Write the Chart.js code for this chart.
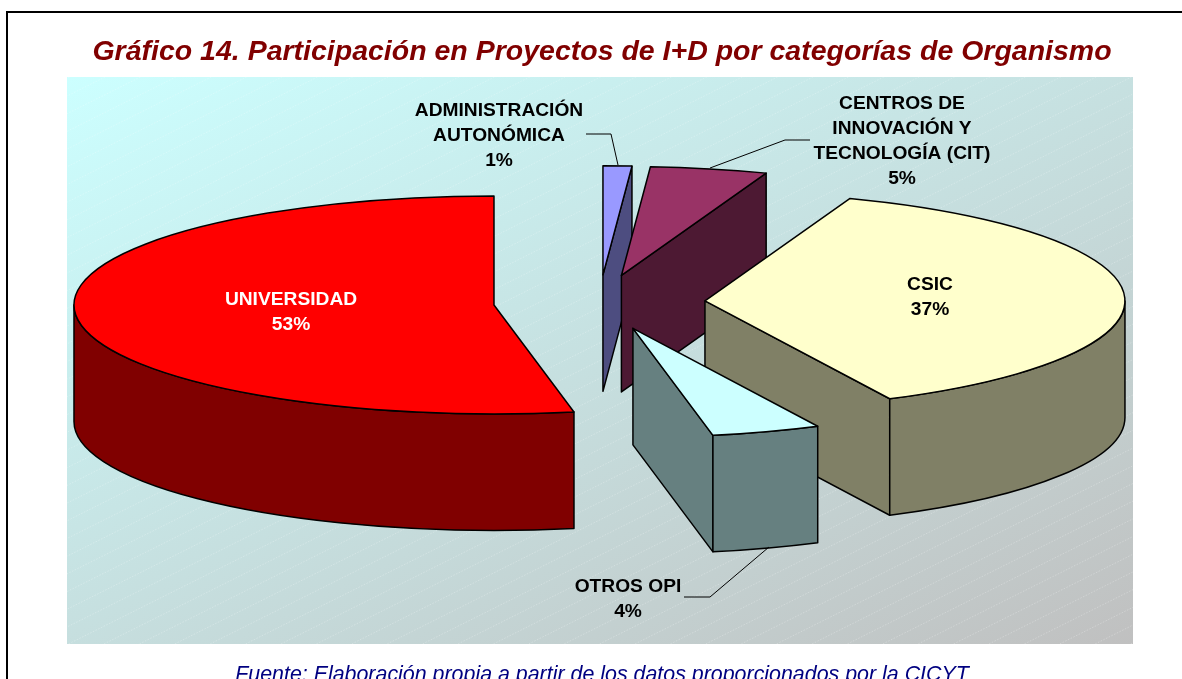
<!DOCTYPE html>
<html>
<head>
<meta charset="utf-8">
<style>
html,body{margin:0;padding:0;background:#fff;overflow:hidden;width:1182px;height:679px}
#wrap{width:1182px;height:679px;overflow:hidden}
canvas{display:block}
</style>
<script src="https://cdn.jsdelivr.net/npm/chart.js@4/dist/chart.umd.min.js"></script>
</head>
<body>
<div id="wrap"><canvas id="c" width="1182" height="700"></canvas></div>
<script>
const categories = ['ADMINISTRACIÓN AUTONÓMICA','CENTROS DE INNOVACIÓN Y TECNOLOGÍA (CIT)','CSIC','OTROS OPI','UNIVERSIDAD'];
const shares = [1.1, 4.5, 37.15, 4.2, 53.05];
const topColors = ['#9999ff','#993366','#ffffcc','#ccffff','#ff0000'];
const wallColors = ['#4d4d80','#4d1933','#808066','#668080','#800000'];
const labelLines = [['ADMINISTRACIÓN','AUTONÓMICA'],['CENTROS DE','INNOVACIÓN Y','TECNOLOGÍA (CIT)'],['CSIC'],['OTROS OPI'],['UNIVERSIDAD']];
const titleText = 'Gráfico 14. Participación en Proyectos de I+D por categorías de Organismo';
const sourceText = 'Fuente: Elaboración propia a partir de los datos proporcionados por la CICYT';

const view = {cx:599.3, cy:302.3, tilt:109/420, radius:420, explode:105.8, depth:116.5};
const plot = {x:67, y:77, w:1066, h:567};
const labelAnchors = [
  {x:499,y:110.5,color:'#000',leader:[[586,134],[611,134],[618,165]]},
  {x:902,y:103.5,color:'#000',leader:[[810,140],[785,140],[710,168]]},
  {x:930,y:284.5,color:'#000'},
  {x:628,y:586.5,color:'#000',leader:[[684,597],[710,597],[769,547]]},
  {x:291,y:299.5,color:'#fff'}
];

const pie3d = {
  id:'pie3d',
  beforeDraw(chart){
    const ctx = chart.ctx;
    ctx.save();
    ctx.fillStyle = '#fff';
    ctx.fillRect(0,0,chart.width,chart.height);
    ctx.fillStyle = '#000';
    ctx.fillRect(6,11,chart.width-6,2);
    ctx.fillRect(6,11,2,chart.height);
    const g = ctx.createLinearGradient(plot.x,plot.y,plot.x+440,plot.y+880);
    g.addColorStop(0,'#ccffff');
    g.addColorStop(1,'#c0c0c0');
    ctx.fillStyle = g;
    ctx.fillRect(plot.x,plot.y,plot.w,plot.h);
    ctx.beginPath();
    ctx.rect(plot.x,plot.y,plot.w,plot.h);
    ctx.clip();
    ctx.strokeStyle = 'rgba(255,255,255,0.25)';
    ctx.lineWidth = 1;
    ctx.setLineDash([1.5,1.5]);
    for(let c = 2206 - 35.4*80; c < 3000; c += 35.4){
      ctx.beginPath();
      ctx.moveTo(c - 2*plot.y, plot.y);
      ctx.lineTo(c - 2*(plot.y+plot.h), plot.y+plot.h);
      ctx.stroke();
    }
    ctx.restore();
  },
  beforeDatasetsDraw(chart){
    const ctx = chart.ctx;
    const arcs = chart.getDatasetMeta(0).data;
    const {tilt,radius:rx,explode,depth} = view;
    const ry = rx*tilt;
    const geo = arcs.map((arc,i)=>{
      const mid = (arc.startAngle+arc.endAngle)/2;
      return {i,arc,mid,a0:arc.startAngle,a1:arc.endAngle,
        x:view.cx+Math.cos(mid)*explode, y:view.cy+Math.sin(mid)*explode*tilt};
    });
    const order = [...geo].sort((p,q)=>Math.sin(p.mid)-Math.sin(q.mid));
    ctx.save();
    ctx.lineWidth = 1.5;
    ctx.strokeStyle = '#000';
    ctx.lineJoin = 'round';
    for(const s of order){
      ctx.fillStyle = wallColors[s.i];
      const face = a=>{
        const px = s.x+Math.cos(a)*rx, py = s.y+Math.sin(a)*ry;
        ctx.beginPath();
        ctx.moveTo(s.x,s.y); ctx.lineTo(px,py); ctx.lineTo(px,py+depth); ctx.lineTo(s.x,s.y+depth);
        ctx.closePath(); ctx.fill(); ctx.stroke();
      };
      if(Math.cos(s.a0)<0) face(s.a0);
      if(Math.cos(s.a1)>0) face(s.a1);
      for(const k of [0,2]){
        const lo = Math.max(s.a0,k*Math.PI), hi = Math.min(s.a1,(k+1)*Math.PI);
        if(hi>lo){
          ctx.beginPath();
          ctx.ellipse(s.x,s.y,rx,ry,0,lo,hi);
          ctx.ellipse(s.x,s.y+depth,rx,ry,0,hi,lo,true);
          ctx.closePath(); ctx.fill(); ctx.stroke();
        }
      }
    }
    for(const s of geo){
      ctx.save();
      ctx.translate(s.x,s.y);
      ctx.scale(1,tilt);
      ctx.translate(-s.arc.x,-s.arc.y);
      s.arc.draw(ctx);
      ctx.restore();
      ctx.beginPath();
      ctx.moveTo(s.x,s.y);
      ctx.ellipse(s.x,s.y,rx,ry,0,s.a0,s.a1);
      ctx.closePath();
      ctx.stroke();
    }
    ctx.restore();
    // leaders and labels
    ctx.save();
    ctx.lineWidth = 1;
    ctx.strokeStyle = '#000';
    ctx.font = 'bold 19.2px "Liberation Sans", Arial, sans-serif';
    ctx.textAlign = 'center';
    ctx.textBaseline = 'middle';
    const total = shares.reduce((a,b)=>a+b,0);
    labelAnchors.forEach((a,i)=>{
      if(a.leader){
        ctx.beginPath();
        a.leader.forEach((p,j)=> j?ctx.lineTo(p[0],p[1]):ctx.moveTo(p[0],p[1]));
        ctx.stroke();
      }
      ctx.fillStyle = a.color;
      const lines = [...labelLines[i], Math.round(shares[i]/total*100)+'%'];
      lines.forEach((t,j)=>ctx.fillText(t,a.x,a.y+j*25));
    });
    ctx.restore();
    return false;
  }
};

new Chart(document.getElementById('c'),{
  type:'pie',
  data:{labels:categories,datasets:[{data:shares,backgroundColor:topColors,borderWidth:0,radius:view.radius}]},
  plugins:[pie3d],
  options:{
    responsive:false,
    animation:false,
    layout:{padding:{left:22,top:0,bottom:0,right:0}},
    events:[],
    plugins:{
      legend:{display:false},
      tooltip:{enabled:false},
      title:{display:true,text:titleText,color:'#800000',
        font:{family:'"Liberation Sans", Arial, sans-serif',size:28.5,weight:'bold',style:'italic',lineHeight:1.2},
        padding:{top:35,bottom:8}},
      subtitle:{display:true,position:'bottom',text:sourceText,color:'#000080',
        font:{family:'"Liberation Sans", Arial, sans-serif',size:21.4,weight:'normal',style:'italic',lineHeight:1.2},
        padding:{top:0,bottom:12}}
    }
  }
});
</script>
</body>
</html>
